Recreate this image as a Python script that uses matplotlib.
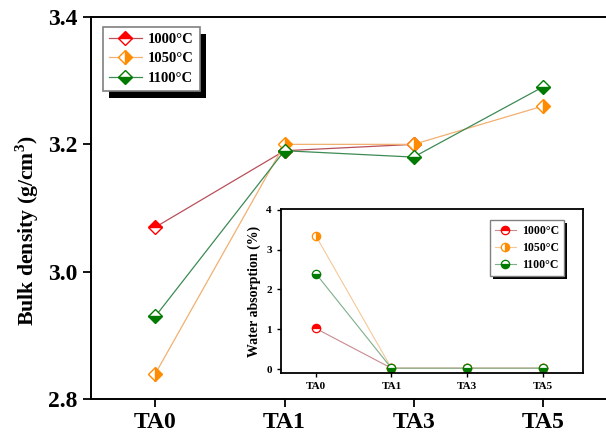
import numpy as np
import matplotlib.pyplot as plt
from matplotlib.patches import Rectangle

plt.rcParams["font.family"] = ["Liberation Serif", "DejaVu Serif"]
plt.rcParams["font.weight"] = "bold"
plt.rcParams["mathtext.fontset"] = "custom"
plt.rcParams["mathtext.rm"] = "Liberation Serif:bold"
plt.rcParams["mathtext.bf"] = "Liberation Serif:bold"

samples = ["TA0", "TA1", "TA3", "TA5"]
temps = ["1000°C", "1050°C", "1100°C"]

# bulk density (g/cm3); 1000°C has no TA5 point
density_1000 = [3.07, 3.19, 3.20, np.nan]
density_1050 = [2.84, 3.20, 3.20, 3.26]
density_1100 = [2.93, 3.19, 3.18, 3.29]

# water absorption (%)
absorb_1000 = [1.02, 0.02, 0.02, 0.02]
absorb_1050 = [3.35, 0.02, 0.02, 0.02]
absorb_1100 = [2.40, 0.02, 0.02, 0.02]

marker_colors = ["#ff0000", "#ff8c00", "#007a00"]
line_colors = ["#b8505a", "#f2b070", "#3d8a55"]
inset_line_colors = ["#c98a90", "#f5c898", "#7fae8c"]
fills = ["top", "right", "bottom"]


def add_shadow(ax, leg, dx, dy):
    """Solid black drop shadow behind a legend frame (offset in pixels)."""
    fig = ax.figure
    fig.canvas.draw()
    bb = leg.get_frame().get_window_extent()
    inv = ax.transAxes.inverted()
    x0, y0 = inv.transform((bb.x0 + dx, bb.y0 + dy))
    x1, y1 = inv.transform((bb.x1 + dx, bb.y1 + dy))
    ax.add_patch(Rectangle((x0, y0), x1 - x0, y1 - y0, transform=ax.transAxes,
                           facecolor="black", edgecolor="none", zorder=4.9,
                           clip_on=False))


fig = plt.figure(figsize=(6.06, 4.37), dpi=100)
ax = fig.add_axes([0.150, 0.087, 0.852, 0.874])

x = np.arange(len(samples))
for vals, mc, lc, fs, lab in zip([density_1000, density_1050, density_1100],
                                 marker_colors, line_colors, fills, temps):
    ax.plot(x, vals, color=lc, lw=0.9, marker="D", ms=7.5, fillstyle=fs,
            markerfacecolor=mc, markerfacecoloralt="white",
            markeredgecolor=mc, markeredgewidth=1.0, label=lab)

ax.set_xlim(-0.5, 3.5)
ax.set_ylim(2.8, 3.4)
ax.set_xticks(x)
ax.set_xticklabels(samples)
ax.set_yticks([2.8, 3.0, 3.2, 3.4])
ax.set_yticklabels(["2.8", "3.0", "3.2", "3.4"])
ax.tick_params(labelsize=17, width=1.3, length=6, direction="out")
ax.set_ylabel("Bulk density (g/cm$^{3}$)", fontsize=15.7, fontweight="bold")
ax.yaxis.set_label_coords(-0.097, 0.44)
for s in ax.spines.values():
    s.set_linewidth(1.4)

leg = ax.legend(loc="upper left", bbox_to_anchor=(0.023, 0.974),
                borderaxespad=0, fontsize=10.5, handlelength=2.3,
                handletextpad=0.4, labelspacing=0.42, framealpha=1,
                fancybox=False, edgecolor="#808080")
leg.get_frame().set_linewidth(1.2)
add_shadow(ax, leg, 6, -7)

# inset: water absorption
ins = fig.add_axes([0.4637, 0.1465, 0.498, 0.375])
for vals, mc, lc, fs, lab in zip([absorb_1000, absorb_1050, absorb_1100],
                                 marker_colors, inset_line_colors, fills, temps):
    ins.plot(x, vals, color=lc, lw=0.8, marker="o", ms=6,
             fillstyle=fs, markerfacecolor=mc, markerfacecoloralt="white",
             markeredgecolor=mc, markeredgewidth=0.9, label=lab)

ins.set_xlim(-0.46, 3.53)
ins.set_ylim(-0.1, 4.02)
ins.set_xticks(x)
ins.set_xticklabels(samples)
ins.set_yticks([0, 1, 2, 3, 4])
ins.tick_params(labelsize=8, width=1.0, length=3, direction="out")
ins.set_ylabel("Water absorption (%)", fontsize=10, fontweight="bold", labelpad=4)
for s in ins.spines.values():
    s.set_linewidth(1.3)

leg2 = ins.legend(loc="upper left", bbox_to_anchor=(0.692, 0.933),
                  borderaxespad=0, fontsize=8.5, handlelength=1.8,
                  handletextpad=0.5, labelspacing=0.45, framealpha=1,
                  fancybox=False, edgecolor="#808080")
leg2.get_frame().set_linewidth(1.0)
add_shadow(ins, leg2, 3, -3)

fig.savefig("out.png", dpi=100)
